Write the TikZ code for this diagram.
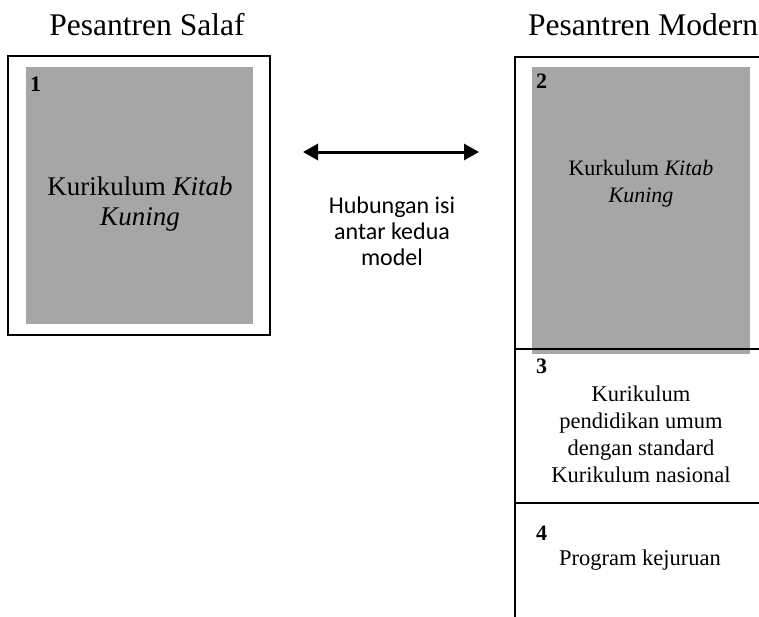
\documentclass[tikz,border=0pt]{standalone}
\usepackage{fontspec}
\setmainfont{Liberation Serif}
\newfontfamily\calibrifont{Carlito}
\usepackage{tikz}
\usetikzlibrary{arrows.meta,positioning}
\definecolor{abu}{RGB}{166,166,166}
\tikzstyle{arrow} = [line width=3pt,{Triangle[length=15pt,width=16pt]}-{Triangle[length=15pt,width=16pt]}]

\begin{document}
\begin{tikzpicture}[x=1pt, y=-1pt,
    every node/.style={inner sep=0pt, outer sep=0pt}]

    \tikzstyle{judul}=[font=\fontsize{31.5}{36}\selectfont]
    \tikzstyle{bingkai}=[draw, line width=2pt, anchor=north west]
    \tikzstyle{abubox}=[fill=abu, anchor=north west]
    \tikzstyle{nomor}=[font=\fontsize{22}{24}\selectfont\bfseries, anchor=base west]
    \tikzstyle{isi}=[align=center, anchor=base]
    \tikzstyle{ket}=[font=\fontsize{24}{26}\selectfont\calibrifont, align=center, anchor=base]

    \useasboundingbox (0,0) rectangle (759,616);
    \clip (0,0) rectangle (759,616);

    % Pesantren Salaf
    \node[judul, anchor=base] (tsalaf) at (147,35) {Pesantren Salaf};
    \node[bingkai, minimum width=262pt, minimum height=279pt] (salaf) at (8,56) {};
    \node[abubox, minimum width=227pt, minimum height=257pt] (kitab1) at (26,67) {};
    \node[nomor] (n1) at (30,91) {1};
    \node[isi, font=\fontsize{27}{30}\selectfont] (k1) at (140,225) {Kurikulum \textit{Kitab}\\\textit{Kuning}};

    % hubungan (base = last line)
    \coordinate (ka) at (303,152);
    \coordinate (kb) at (479,152);
    \draw[arrow] (ka) -- (kb);
    \node[ket] (hub) at (392,265) {Hubungan isi\\antar kedua\\model};

    % Pesantren Modern
    \node[judul, anchor=base west] (tmodern) at (528,35) {Pesantren Modern};
    \node[abubox, minimum width=218pt, minimum height=287pt] (kitab2) at (532,67) {};
    \coordinate (mkiri) at (515,57);
    \coordinate (mkanan) at (780,57);
    \coordinate (mbawah) at (515,630);
    \draw[line width=2pt] (mbawah) -- (mkiri) -- (mkanan);
    \coordinate (g1a) at (515,349);
    \coordinate (g1b) at (780,349);
    \coordinate (g2a) at (515,503);
    \coordinate (g2b) at (780,503);
    \draw[line width=2pt] (g1a) -- (g1b);
    \draw[line width=2pt] (g2a) -- (g2b);

    \node[nomor] (n2) at (536,88) {2};
    \node[isi, font=\fontsize{22}{27}\selectfont] (k2) at (641,202) {Kurkulum \textit{Kitab}\\\textit{Kuning}};
    \node[nomor] (n3) at (536,373) {3};
    \node[isi, font=\fontsize{22.5}{26.7}\selectfont] (k3) at (641,482) {Kurikulum\\pendidikan umum\\dengan standard\\Kurikulum nasional};
    \node[nomor] (n4) at (536,540) {4};
    \node[isi, font=\fontsize{22.5}{26.7}\selectfont] (k4) at (640,565) {Program kejuruan};

\end{tikzpicture}
\end{document}
